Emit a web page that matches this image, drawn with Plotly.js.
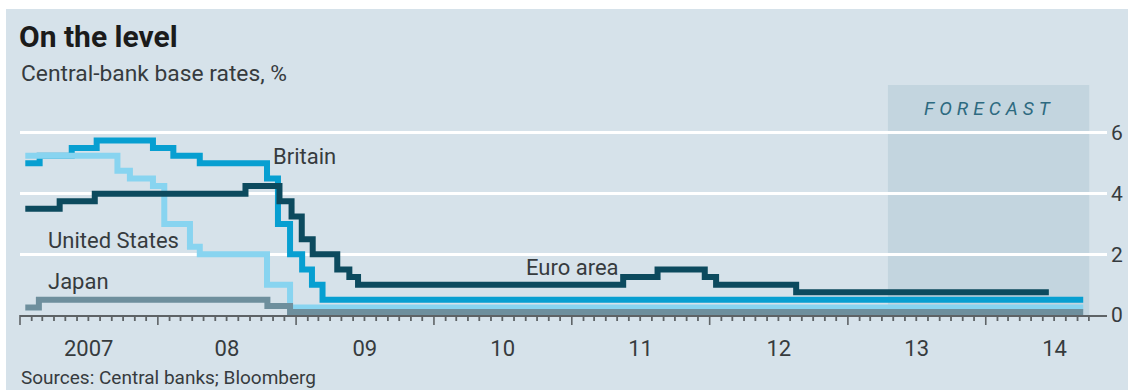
<!DOCTYPE html>
<html>
<head>
<meta charset="utf-8">
<script src="https://cdn.plot.ly/plotly-3.0.1.min.js"></script>
<style>
html,body{margin:0;padding:0;background:#ffffff;}
#chart{width:1128px;height:390px;}
</style>
</head>
<body>
<div id="chart"></div>
<script>
// ---- Data ----
const euroDates = ['2007-01-15','2007-04-16','2007-07-18','2008-08-20','2008-11-18','2008-12-20','2009-01-16','2009-02-14','2009-04-20','2009-05-22','2009-06-14','2011-05-17','2011-08-16','2011-12-19','2012-01-18','2012-08-17','2014-06-17'];
const euroRates = [3.5,3.75,4.0,4.25,3.75,3.25,2.5,2.0,1.5,1.25,1.0,1.25,1.5,1.25,1.0,0.75,0.75];

const britainDates = ['2007-01-15','2007-02-22','2007-05-18','2007-07-23','2007-12-19','2008-02-11','2008-04-21','2008-10-16','2008-11-14','2008-12-16','2009-01-17','2009-02-12','2009-03-12','2014-09-16'];
const britainRates = [5.0,5.25,5.5,5.75,5.5,5.25,5.0,4.5,3.0,2.0,1.5,1.0,0.5,0.5];

const usDates = ['2007-01-15','2007-09-16','2007-10-19','2007-12-19','2008-01-18','2008-03-26','2008-04-21','2008-10-16','2008-12-16','2014-09-16'];
const usRates = [5.25,4.75,4.5,4.25,3.0,2.25,2.0,1.0,0.25,0.25];

const japanDates = ['2007-01-15','2007-02-20','2008-10-17','2008-12-16','2014-09-16'];
const japanRates = [0.25,0.5,0.3,0.1,0.1];

const forecastStart = '2013-04-17';
const forecastEnd = '2014-10-02';

const years = [2007,2008,2009,2010,2011,2012,2013,2014];
const yearTickVals = ['2007-07-02','2008-07-02','2009-07-02','2010-07-02','2011-07-02','2012-07-02','2013-07-02','2014-07-02'];
const yearTickText = ['2007','08','09','10','11','12','13','14'];
const rateTickVals = [0,2,4,6];
const rateTickText = ['0','2','4','6'];

const seriesNames = ['Britain','United States','Japan','Euro area'];

// ---- Styling ----
const FONT = 'Roboto, "Open Sans", sans-serif';
const BG = '#d6e2ea';
const SHADE = '#c3d5df';
const TEXT = '#363b3e';
const AXIS = '#5e6366';
const COLORS = {euro:'#0c4a5e', britain:'#079fd1', us:'#88d4f0', japan:'#6e8f9d'};
const LW = 6;

function stepTrace(x, y, color, name){
  return {type:'scatter', mode:'lines', x:x, y:y, name:name,
    line:{shape:'hv', color:color, width:LW}, hoverinfo:'skip', showlegend:false,
    xaxis:'x', yaxis:'y'};
}

const traces = [
  stepTrace(britainDates, britainRates, COLORS.britain, seriesNames[0]),
  stepTrace(usDates, usRates, COLORS.us, seriesNames[1]),
  stepTrace(japanDates, japanRates, COLORS.japan, seriesNames[2]),
  stepTrace(euroDates, euroRates, COLORS.euro, seriesNames[3]),
  {type:'scatter', x:[], y:[], xaxis:'x2', yaxis:'y', showlegend:false, hoverinfo:'skip'}
];

const W = 1128, H = 390;
const M = {l:20, r:21, t:85, b:75};
const PLOT_H = H - M.t - M.b;
const xRange = ['2007-01-01','2014-11-18'];
const yRange = [0, 7.58];

const labelFont = {family:FONT, size:22, color:TEXT};

// axis tick marks: long at each year start, short at each month (Jan 2007 – Oct 2014)
const rangeStart = Date.UTC(2007, 0, 1), rangeEnd = Date.UTC(2014, 10, 18);
const tickShapes = [];
years.forEach(function(yr){
  for (let mo = 0; mo < 12; mo++) {
    if (yr === 2014 && mo > 9) break;
    const px = (Date.UTC(yr, mo, 1) - rangeStart) / (rangeEnd - rangeStart);
    const major = (mo === 0);
    tickShapes.push({type:'line', xref:'paper', yref:'paper', x0:px, x1:px,
      y0:0, y1:-(major ? 10 : 6)/PLOT_H,
      line:{color:AXIS, width:major ? 1.6 : 1.8}, layer:'above'});
  }
});

const layout = {
  width:W, height:H,
  margin:M,
  paper_bgcolor:BG,
  plot_bgcolor:BG,
  showlegend:false,
  title:{
    text:'<b>On the level</b>',
    font:{family:FONT, size:30, color:'#1b1b1b'},
    xref:'container', yref:'container',
    x:19/W, xanchor:'left',
    y:1-36/H, yanchor:'middle'
  },
  // axis line
  xaxis:{
    type:'date', range:xRange, autorange:false,
    showgrid:false, zeroline:false,
    showline:true, linecolor:AXIS, linewidth:1.5,
    ticks:'', showticklabels:false
  },
  // year labels centred between year ticks
  xaxis2:{
    type:'date', range:xRange, autorange:false,
    overlaying:'x', anchor:'y', side:'bottom',
    showgrid:false, zeroline:false, showline:false,
    tickmode:'array', tickvals:yearTickVals, ticktext:yearTickText,
    ticks:'', ticklabelstandoff:18,
    tickfont:{family:FONT, size:22, color:TEXT}
  },
  yaxis:{
    range:yRange, autorange:false, side:'right',
    tickmode:'array', tickvals:rateTickVals, ticktext:rateTickText,
    showgrid:true, gridcolor:'#ffffff', gridwidth:3,
    zeroline:false, showline:false,
    ticks:'', ticklabelstandoff:3,
    tickfont:{family:FONT, size:21, color:TEXT}
  },
  shapes:[
    {type:'rect', xref:'x', yref:'paper', x0:forecastStart, x1:forecastEnd, y0:0, y1:1,
     fillcolor:SHADE, line:{width:0}, layer:'below'},
    // white outer frame (top and left strips)
    {type:'rect', xref:'paper', yref:'paper', x0:-0.1, x1:1.1, y0:(H - M.b - 9)/PLOT_H, y1:2,
     fillcolor:'#ffffff', line:{width:0}, layer:'below'},
    {type:'rect', xref:'paper', yref:'paper', x0:-0.1, x1:(6-M.l)/(W-M.l-M.r), y0:-1, y1:2,
     fillcolor:'#ffffff', line:{width:0}, layer:'below'}
  ].concat(tickShapes),
  annotations:[
    {xref:'paper', yref:'paper', x:-1/1087, y:(315-73.5)/PLOT_H, xanchor:'left', yanchor:'middle',
     text:'Central-bank base rates, %', showarrow:false, font:{family:FONT, size:22.8, color:TEXT}},
    {xref:'paper', yref:'paper', x:-1/1087, y:(315-377)/PLOT_H, xanchor:'left', yanchor:'middle',
     text:'Sources: Central banks; Bloomberg', showarrow:false, font:{family:FONT, size:19, color:TEXT}},
    {xref:'x', yref:'y', x:'2008-10-27', y:5.21, xanchor:'left', yanchor:'middle',
     text:seriesNames[0], showarrow:false, font:labelFont},
    {xref:'x', yref:'y', x:'2007-03-10', y:2.47, xanchor:'left', yanchor:'middle',
     text:seriesNames[1], showarrow:false, font:labelFont},
    {xref:'x', yref:'y', x:'2007-03-10', y:1.12, xanchor:'left', yanchor:'middle',
     text:seriesNames[2], showarrow:false, font:labelFont},
    {xref:'x', yref:'y', x:'2010-08-28', y:1.55, xanchor:'left', yanchor:'middle',
     text:seriesNames[3], showarrow:false, font:labelFont},
    {xref:'x', yref:'y', x:'2014-01-11', y:6.82, xanchor:'center', yanchor:'middle',
     text:'<i><span style="letter-spacing:5px">FORECAST</span></i>', showarrow:false,
     font:{family:FONT, size:19, color:'#2d6a80'}}
  ]
};

Plotly.newPlot('chart', traces, layout, {staticPlot:true, displayModeBar:false});
</script>
</body>
</html>
